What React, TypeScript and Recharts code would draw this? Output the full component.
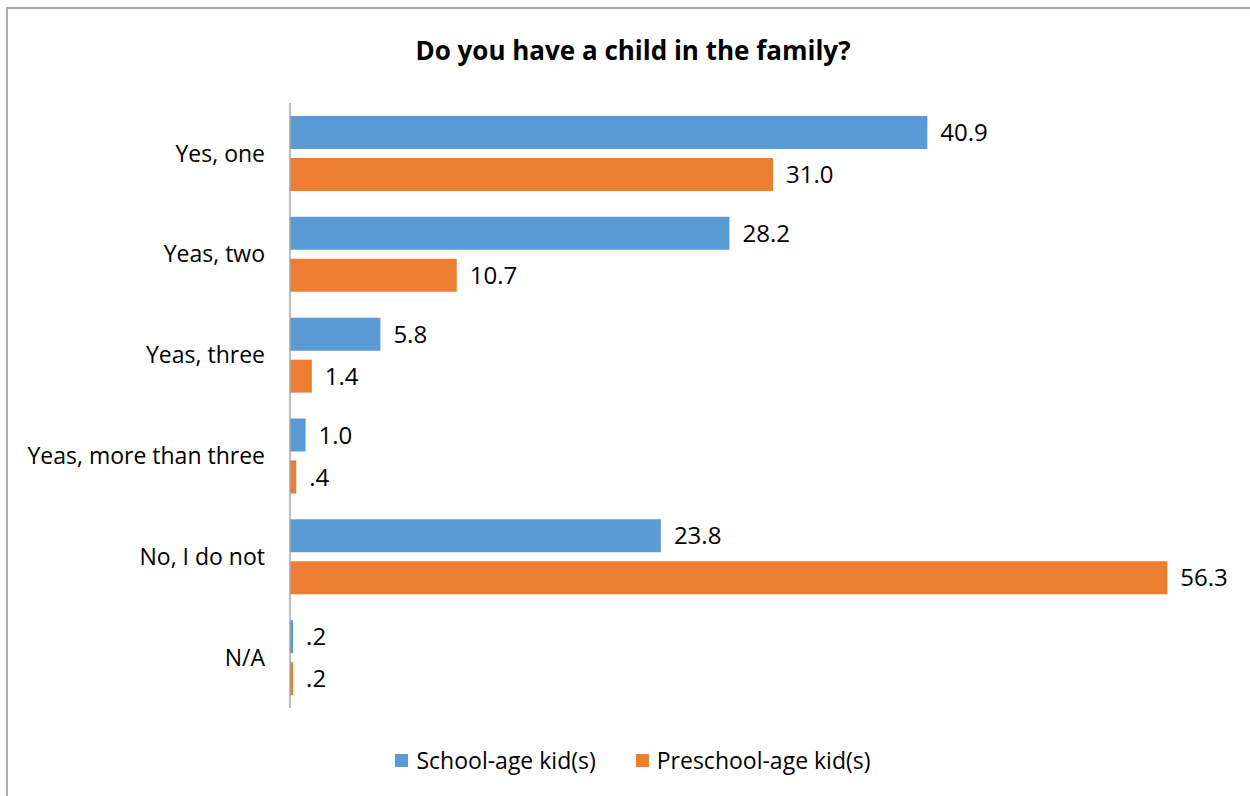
import React from 'react';
import { BarChart, Bar, XAxis, YAxis, LabelList, Legend } from 'recharts';

const categories = ['Yes, one', 'Yeas, two', 'Yeas, three', 'Yeas, more than three', 'No, I do not', 'N/A'];
const schoolAge = [40.9, 28.2, 5.8, 1.0, 23.8, 0.2];
const preschoolAge = [31.0, 10.7, 1.4, 0.4, 56.3, 0.2];
const seriesNames = ['School-age kid(s)', 'Preschool-age kid(s)'];
const colors = ['#5B9BD5', '#ED7D31'];
const title = 'Do you have a child in the family?';

const data = categories.map((c, i) => ({ name: c, school: schoolAge[i], preschool: preschoolAge[i] }));

const FONT = '"Open Sans", sans-serif';

const fmt = (v: any) => {
  const n = Number(v);
  const s = n.toFixed(1);
  return n < 1 ? s.replace(/^0/, '') : s;
};

const LegendContent = () => (
  <div style={{ display: 'flex', justifyContent: 'center', fontFamily: FONT, fontSize: 23, lineHeight: '30px', color: '#000' }}>
    {seriesNames.map((n, i) => (
      <div key={n} style={{ display: 'flex', alignItems: 'center', marginLeft: i ? 40 : 0 }}>
        <div style={{ width: 13, height: 13, background: colors[i], marginRight: 8 }} />
        <span>{n}</span>
      </div>
    ))}
  </div>
);

export default function App() {
  return (
    <div style={{ position: 'absolute', left: 0, top: 0, width: 1250, height: 796, background: '#fff', overflow: 'hidden' }}>
      <div style={{ position: 'absolute', left: 6, top: 7, width: 1300, height: 900, borderTop: '2px solid #A8A8A8', borderLeft: '2px solid #B0B0B0' }} />
      <div style={{ position: 'absolute', left: 0, top: 32, width: 1266, textAlign: 'center', fontFamily: FONT, fontWeight: 700, fontSize: 26, color: '#000' }}>
        {title}
      </div>
      <div style={{ position: 'absolute', left: 0, top: 0 }}>
        <BarChart
          width={1250}
          height={796}
          data={data}
          layout="vertical"
          margin={{ top: 103, right: 25, bottom: 58, left: 0 }}
          barSize={33}
          barGap={9}
        >
          <XAxis type="number" domain={[0, 60]} hide />
          <YAxis
            type="category"
            dataKey="name"
            width={290}
            tickLine={false}
            tickSize={0}
            tickMargin={25}
            axisLine={{ stroke: '#A6A6A6', strokeWidth: 1.5 }}
            tick={{ fill: '#000', fontSize: 23, fontFamily: FONT }}
          />
          <Legend
            content={<LegendContent />}
            wrapperStyle={{ position: 'absolute', top: 745, left: 0, width: 1266 }}
          />
          <Bar dataKey="school" name={seriesNames[0]} fill={colors[0]} isAnimationActive={false}>
            <LabelList dataKey="school" position="right" offset={13} formatter={fmt} fill="#000" fontSize={24} fontFamily={FONT} />
          </Bar>
          <Bar dataKey="preschool" name={seriesNames[1]} fill={colors[1]} isAnimationActive={false}>
            <LabelList dataKey="preschool" position="right" offset={13} formatter={fmt} fill="#000" fontSize={24} fontFamily={FONT} />
          </Bar>
        </BarChart>
      </div>
    </div>
  );
}
